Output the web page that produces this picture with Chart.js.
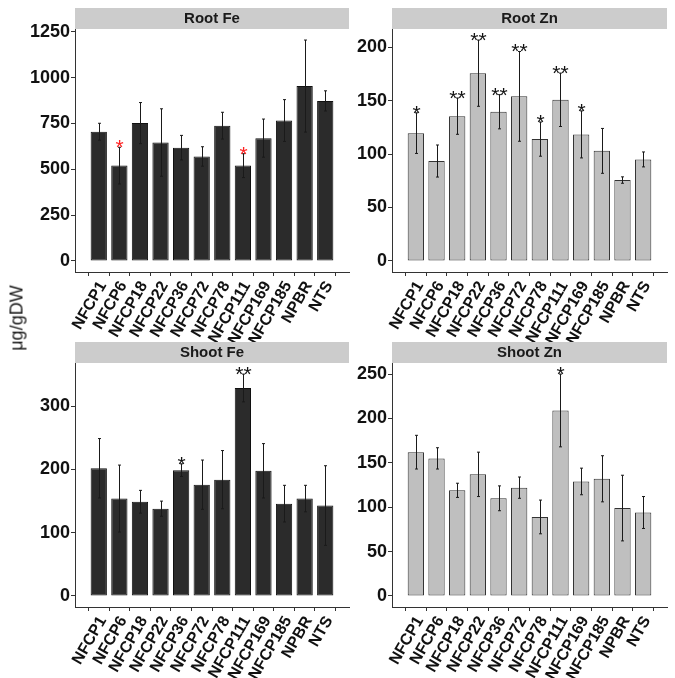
<!DOCTYPE html>
<html>
<head>
<meta charset="utf-8">
<script src="https://cdn.jsdelivr.net/npm/chart.js@4.4.1/dist/chart.umd.min.js"></script>
<style>
  body { margin: 0; background: #fff; }
  #wrap { position: relative; width: 675px; height: 678px; overflow: hidden; }
  canvas { position: absolute; }
  #ytitle {
    position: absolute; left: 17px; top: 318px;
    transform: translate(-50%, -50%) rotate(-90deg);
    font: 18px "Liberation Sans", Arial, sans-serif; color: #1a1a1a; white-space: nowrap;
  }
</style>
</head>
<body>
<div id="wrap">
  <canvas id="rootFe" width="352" height="345" style="left:0;top:0"></canvas>
  <canvas id="rootZn" width="323" height="345" style="left:352px;top:0"></canvas>
  <canvas id="shootFe" width="352" height="343" style="left:0;top:335px"></canvas>
  <canvas id="shootZn" width="323" height="343" style="left:352px;top:335px"></canvas>
  <div id="ytitle">μg/gDW</div>
</div>
<script>
const categories = ["NFCP1", "NFCP6", "NFCP18", "NFCP22", "NFCP36", "NFCP72", "NFCP78", "NFCP111", "NFCP169", "NFCP185", "NPBR", "NTS"];

const rootFe = [705, 520, 752, 646, 618, 570, 738, 520, 670, 766, 954, 873];
const rootFeErr = [46, 100, 112, 184, 67, 53, 73, 65, 104, 114, 251, 55];
const rootFeSig = ["", "*", "", "", "", "", "", "*", "", "", "", ""];
const rootFeTicks = [0, 250, 500, 750, 1000, 1250];

const rootZn = [119.6, 93.5, 135.5, 175.7, 139.6, 154, 114, 150.8, 118.4, 103, 75.7, 95];
const rootZnErr = [19, 15, 17, 31, 16, 42, 16, 25, 22, 21, 3, 7];
const rootZnSig = ["*", "", "**", "**", "**", "**", "*", "**", "*", "", "", ""];
const rootZnTicks = [0, 50, 100, 150, 200];

const shootFe = [202, 154, 149, 138, 199, 176, 184, 329, 198, 146, 154, 143];
const shootFeErr = [47, 53, 18, 12, 10, 39, 46, 22, 43, 29, 21, 63];
const shootFeSig = ["", "", "", "", "*", "", "", "**", "", "", "", ""];
const shootFeTicks = [0, 100, 200, 300];

const shootZn = [162, 155, 119, 137, 110, 122, 89, 209, 129, 132, 99, 94];
const shootZnErr = [19, 12, 8, 25, 14, 12, 19, 41, 15, 26, 37, 18];
const shootZnSig = ["", "", "", "", "", "", "", "*", "", "", "", ""];
const shootZnTicks = [0, 50, 100, 150, 200, 250];

const FONT = '"Liberation Sans", Arial, sans-serif';

// error bars, significance stars and the facet strip
const panelDecor = {
  id: "panelDecor",
  afterDatasetsDraw(chart, args, opts) {
    const { ctx, chartArea } = chart;
    const x = chart.scales.x;
    const y = chart.scales.y;
    ctx.save();
    ctx.strokeStyle = "#1a1a1a";
    ctx.lineWidth = 1;
    opts.means.forEach((m, i) => {
      const px = Math.round(x.getPixelForValue(i)) + 0.5;
      const top = y.getPixelForValue(m + opts.errs[i]);
      const bot = y.getPixelForValue(m - opts.errs[i]);
      ctx.beginPath();
      ctx.moveTo(px, top);
      ctx.lineTo(px, bot);
      ctx.moveTo(px - 1.5, top);
      ctx.lineTo(px + 1.5, top);
      ctx.moveTo(px - 1.5, bot);
      ctx.lineTo(px + 1.5, bot);
      ctx.stroke();
      if (opts.sig[i]) {
        ctx.fillStyle = opts.sigColor;
        ctx.font = "21px " + FONT;
        ctx.textAlign = "center";
        ctx.textBaseline = "alphabetic";
        ctx.fillText(opts.sig[i], px, top + 7);
      }
    });

    ctx.fillStyle = "#cccccc";
    ctx.fillRect(chartArea.left, chartArea.top - 21, chartArea.right - chartArea.left, 21);
    ctx.fillStyle = "#1a1a1a";
    ctx.font = "bold 15px " + FONT;
    ctx.textAlign = "center";
    ctx.textBaseline = "middle";
    ctx.fillText(opts.title, (chartArea.left + chartArea.right) / 2, chartArea.top - 10);
    ctx.restore();
  },
};

function makePanel(id, title, values, errs, sig, ticks, look) {
  const topVal = Math.max(...values.map((v, i) => v + errs[i]));
  return new Chart(document.getElementById(id), {
    type: "bar",
    data: {
      datasets: [
        {
          data: values.map((v, i) => ({ x: i, y: v })),
          backgroundColor: look.fill,
          borderColor: look.border,
          borderWidth: 1,
          borderSkipped: false,
          categoryPercentage: 1,
          barPercentage: 0.79,
        },
      ],
    },
    options: {
      responsive: false,
      animation: false,
      layout: { padding: { top: look.padTop, right: look.padRight, left: 0, bottom: 0 } },
      plugins: {
        legend: { display: false },
        tooltip: { enabled: false },
        panelDecor: { title: title, means: values, errs: errs, sig: sig, sigColor: look.sigColor },
      },
      scales: {
        x: {
          type: "linear",
          min: -0.6,
          max: categories.length - 0.4,
          afterBuildTicks: (s) => {
            s.ticks = categories.map((c, i) => ({ value: i }));
          },
          afterFit: (s) => {
            s.height = look.xHeight;
          },
          ticks: {
            autoSkip: false,
            minRotation: 60,
            maxRotation: 60,
            padding: 2,
            labelOffset: 4,
            color: "#111",
            font: { family: FONT, size: 16, weight: "bold" },
            callback: (v) => categories[v],
          },
          grid: { drawOnChartArea: false, tickLength: 4, color: "#333" },
          border: { color: "#333", width: 1 },
        },
        y: {
          min: -0.05 * topVal,
          max: 1.05 * topVal,
          afterBuildTicks: (s) => {
            s.ticks = ticks.map((t) => ({ value: t }));
          },
          afterFit: (s) => {
            s.width = look.yWidth;
          },
          ticks: {
            padding: 1,
            color: "#111",
            font: { family: FONT, size: 18, weight: "bold" },
            callback: (v) => String(v),
          },
          grid: { drawOnChartArea: false, tickLength: 4, color: "#333" },
          border: { color: "#333", width: 1 },
        },
      },
    },
    plugins: [panelDecor],
  });
}

const darkBars = { fill: "#2b2b2b", border: "#111111" };
const lightBars = { fill: "#bfbfbf", border: "#333333" };

makePanel("rootFe", "Root Fe", rootFe, rootFeErr, rootFeSig, rootFeTicks,
  { ...darkBars, sigColor: "#ff2020", padTop: 29, padRight: 3, yWidth: 75, xHeight: 73 });
makePanel("rootZn", "Root Zn", rootZn, rootZnErr, rootZnSig, rootZnTicks,
  { ...lightBars, sigColor: "#111", padTop: 29, padRight: 8, yWidth: 40, xHeight: 73 });
makePanel("shootFe", "Shoot Fe", shootFe, shootFeErr, shootFeSig, shootFeTicks,
  { ...darkBars, sigColor: "#111", padTop: 28, padRight: 3, yWidth: 75, xHeight: 71 });
makePanel("shootZn", "Shoot Zn", shootZn, shootZnErr, shootZnSig, shootZnTicks,
  { ...lightBars, sigColor: "#111", padTop: 28, padRight: 8, yWidth: 40, xHeight: 71 });
</script>
</body>
</html>
